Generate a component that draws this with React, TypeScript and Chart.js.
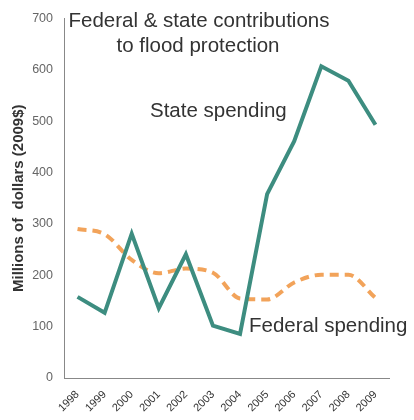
import React, { useEffect, useRef } from "react";
import { Chart, registerables } from "chart.js";

Chart.register(...registerables);

const years = ["1998","1999","2000","2001","2002","2003","2004","2005","2006","2007","2008","2009"];
const stateSpending = [158, 127, 281, 136, 241, 102, 86, 358, 461, 607, 579, 493];
const federalSpending = [290, 280, 230, 204, 213, 205, 155, 153, 186, 201, 201, 156];
const yTicks = [0, 100, 200, 300, 400, 500, 600, 700];
const titleLines = ["Federal & state contributions", "to flood protection"];
const stateLabel = "State spending";
const federalLabel = "Federal spending";
const yTitle = "Millions of  dollars (2009$)";

const FONT = "'Liberation Sans', Arial, sans-serif";

const annotations = {
  id: "annotations",
  afterDraw(chart: any) {
    const ctx = chart.ctx;
    ctx.save();
    ctx.fillStyle = "#333";
    ctx.textBaseline = "middle";
    ctx.textAlign = "center";
    ctx.font = `20.5px ${FONT}`;
    ctx.fillText(titleLines[0], 199, 21);
    ctx.fillText(titleLines[1], 198, 46);
    ctx.textAlign = "left";
    ctx.fillText(stateLabel, 150, 111);
    ctx.fillText(federalLabel, 249, 326);
    ctx.restore();
  },
};

export default function App() {
  const ref = useRef<HTMLCanvasElement>(null);
  useEffect(() => {
    document.body.style.margin = "0";
    const chart = new Chart(ref.current!, {
      type: "line",
      data: {
        labels: years,
        datasets: [
          {
            label: stateLabel,
            data: stateSpending,
            borderColor: "#3d8d80",
            borderWidth: 4,
            pointRadius: 0,
            tension: 0,
            borderJoinStyle: "miter",
          },
          {
            label: federalLabel,
            data: federalSpending,
            borderColor: "#f2a35a",
            borderWidth: 4,
            borderDash: [9, 6],
            pointRadius: 0,
            tension: 0.4,
            cubicInterpolationMode: "monotone",
          },
        ],
      },
      options: {
        animation: false,
        responsive: false,
        layout: { padding: { top: 14, right: 25, left: 0, bottom: 0 } },
        plugins: { legend: { display: false }, tooltip: { enabled: false } },
        scales: {
          x: {
            offset: true,
            grid: { display: false, drawTicks: false },
            border: { display: true, color: "#888", width: 1 },
            ticks: {
              maxRotation: 45,
              minRotation: 45,
              padding: 10,
              color: "#333",
              font: { family: FONT, size: 11 },
            },
            afterFit(scale: any) {
              scale.height = 42;
            },
          },
          y: {
            min: 0,
            max: 700,
            afterBuildTicks(scale: any) {
              scale.ticks = yTicks.map((v) => ({ value: v }));
            },
            grid: { display: false, drawTicks: false },
            border: { display: true, color: "#888", width: 1 },
            ticks: {
              padding: 11,
              color: "#666",
              font: { family: FONT, size: 12.5 },
            },
            title: {
              display: true,
              text: yTitle,
              color: "#333",
              padding: { top: 10, bottom: 4 },
              font: { family: FONT, size: 15, weight: "bold" },
            },
            afterFit(scale: any) {
              scale.width = 64;
            },
          },
        },
      },
      plugins: [annotations],
    });
    return () => chart.destroy();
  }, []);
  return (
    <div style={{ width: 414, height: 420 }}>
      <canvas ref={ref} width={414} height={420} />
    </div>
  );
}
